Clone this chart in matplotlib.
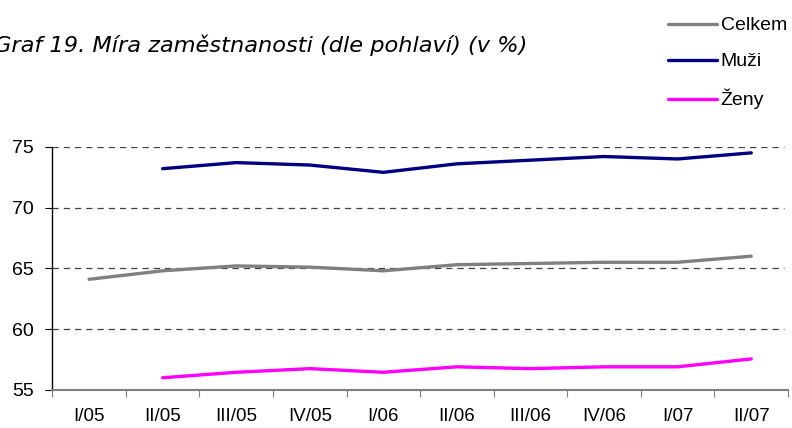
import numpy as np
import matplotlib.pyplot as plt

# --- data ---
quarters = ['I/05', 'II/05', 'III/05', 'IV/05', 'I/06', 'II/06', 'III/06', 'IV/06', 'I/07', 'II/07']
celkem = [64.1, 64.8, 65.2, 65.1, 64.8, 65.3, 65.4, 65.5, 65.5, 66.0]
muzi = [np.nan, 73.2, 73.7, 73.5, 72.9, 73.6, 73.9, 74.2, 74.0, 74.5]
zeny = [np.nan, 56.0, 56.45, 56.75, 56.45, 56.9, 56.75, 56.9, 56.9, 57.55]

plt.rcParams['font.family'] = ['Liberation Sans', 'DejaVu Sans']

fig = plt.figure(figsize=(7.92, 4.28), dpi=100)
ax = fig.add_axes([0.066, 0.089, 0.929, 0.568])

x = np.arange(len(quarters)) + 0.5
ax.plot(x, celkem, color='#808080', lw=2.4, label='Celkem', solid_capstyle='round')
ax.plot(x, muzi, color='#000080', lw=2.4, label='Muži', solid_capstyle='round')
ax.plot(x, zeny, color='#FF00FF', lw=2.4, label='Ženy', solid_capstyle='round')

ax.set_xlim(0, len(quarters))
ax.set_ylim(55, 75)
ax.set_yticks([55, 60, 65, 70, 75])
ax.set_xticks(np.arange(len(quarters) + 1), minor=False)
ax.set_xticklabels([])
ax.set_xticks(x, minor=True)
ax.set_xticklabels(quarters, minor=True)
ax.tick_params(axis='x', which='minor', length=0, pad=13, labelsize=13.5)
ax.tick_params(axis='x', which='major', length=5, color='#808080', direction='out')
ax.tick_params(axis='y', length=5, labelsize=14, pad=8)

for v in [60, 65, 70, 75]:
    ax.plot([0, 9.94], [v, v], color='#404040', lw=0.9, ls=(0, (5, 4)), zorder=0)

for s in ['top', 'right']:
    ax.spines[s].set_visible(False)
ax.spines['bottom'].set_color('#808080')
ax.spines['bottom'].set_linewidth(1.5)
ax.spines['left'].set_color('black')
ax.spines['left'].set_linewidth(1.0)

fig.text(-0.008, 0.895, 'Graf 19. Míra zaměstnanosti (dle pohlaví) (v %)',
         fontsize=16.2, style='italic', family='DejaVu Sans', ha='left', va='center')

fig.legend(loc='upper left', bbox_to_anchor=(0.829, 0.988), frameon=False,
           fontsize=14, handlelength=2.5, handletextpad=0.2, labelspacing=0.95,
           borderaxespad=0.2)

plt.savefig('out.png', dpi=100)
